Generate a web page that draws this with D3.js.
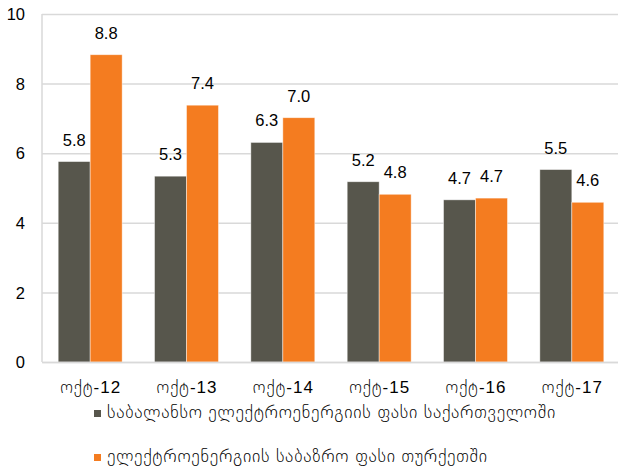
<!DOCTYPE html>
<html><head><meta charset="utf-8">
<script src="https://cdn.jsdelivr.net/npm/d3@7"></script>
<style>
body{margin:0;background:#fff;}
svg text{font-family:"Liberation Sans","DejaVu Sans",Arial,sans-serif;fill:#000;}
.geo{font-weight:200;}
</style></head>
<body><svg id="c" width="618" height="475"></svg>
<script>
const categories = ["ოქტ-12","ოქტ-13","ოქტ-14","ოქტ-15","ოქტ-16","ოქტ-17"];
const seriesNames = ["საბალანსო ელექტროენერგიის ფასი საქართველოში","ელექტროენერგიის საბაზრო ფასი თურქეთში"];
const georgiaPrice = [5.76, 5.34, 6.31, 5.18, 4.66, 5.53];
const turkeyPrice = [8.83, 7.38, 7.02, 4.82, 4.71, 4.59];
const yTicks = [0,2,4,6,8,10];
const colors = ["#57564c","#f47c20"];

const svg = d3.select("#c");
const y = d3.scaleLinear().domain([0,10]).range([362,14]);
const x = d3.scaleBand().domain(categories).range([42,620]).paddingInner(0.336).paddingOuter(0.168);
const xs = d3.scaleBand().domain([0,1]).range([0,x.bandwidth()]);

const yAxis = d3.axisLeft(y).tickValues(yTicks).tickSize(-(618-42)).tickFormat(d3.format("d"));
const gy = svg.append("g").attr("transform","translate(42,0)").call(yAxis);
gy.select(".domain").remove();
gy.selectAll(".tick line").attr("stroke","#d9d9d9").attr("stroke-width",1.5);
gy.selectAll(".tick text").attr("x",-17).attr("font-size",16.5).attr("dy","0.35em");
svg.append("line").attr("x1",42).attr("x2",42).attr("y1",y(10)).attr("y2",y(0)).attr("stroke","#d9d9d9").attr("stroke-width",1.5);

const series = [georgiaPrice, turkeyPrice];
series.forEach((vals,si)=>{
  const g = svg.append("g");
  g.selectAll("rect").data(vals).join("rect")
    .attr("x",(d,i)=>x(categories[i])+xs(si))
    .attr("y",d=>y(d))
    .attr("width",xs.bandwidth())
    .attr("height",d=>y(0)-y(d))
    .attr("fill",colors[si])
    .attr("stroke","#ffffff").attr("stroke-opacity",0.6).attr("stroke-width",0.75);
  g.selectAll("text").data(vals).join("text")
    .attr("x",(d,i)=>x(categories[i])+xs(si)+xs.bandwidth()/2)
    .attr("y",d=>y(d)-16)
    .attr("text-anchor","middle").attr("font-size",16.5)
    .text(d=>d3.format(".1f")(d));
});

const xAxis = d3.axisBottom(x).tickSize(0).tickPadding(0);
const gx = svg.append("g").attr("transform","translate(0,362)").call(xAxis);
gx.select(".domain").attr("stroke","#d9d9d9").attr("stroke-width",1.5);
gx.selectAll(".tick text").attr("y",31).attr("dy",0).attr("font-size",17).attr("class","geo")
  .attr("letter-spacing",1).attr("dx",0.5);

const leg = svg.append("g");
const legY = [418, 462];
seriesNames.forEach((n,i)=>{
  leg.append("rect").attr("x",94).attr("y",legY[i]-8).attr("width",7).attr("height",7).attr("fill",colors[i]);
  leg.append("text").attr("class","geo").attr("x",107).attr("y",legY[i]).attr("font-size",17.7)
    .attr("letter-spacing",0.75).text(n);
});
</script></body></html>
